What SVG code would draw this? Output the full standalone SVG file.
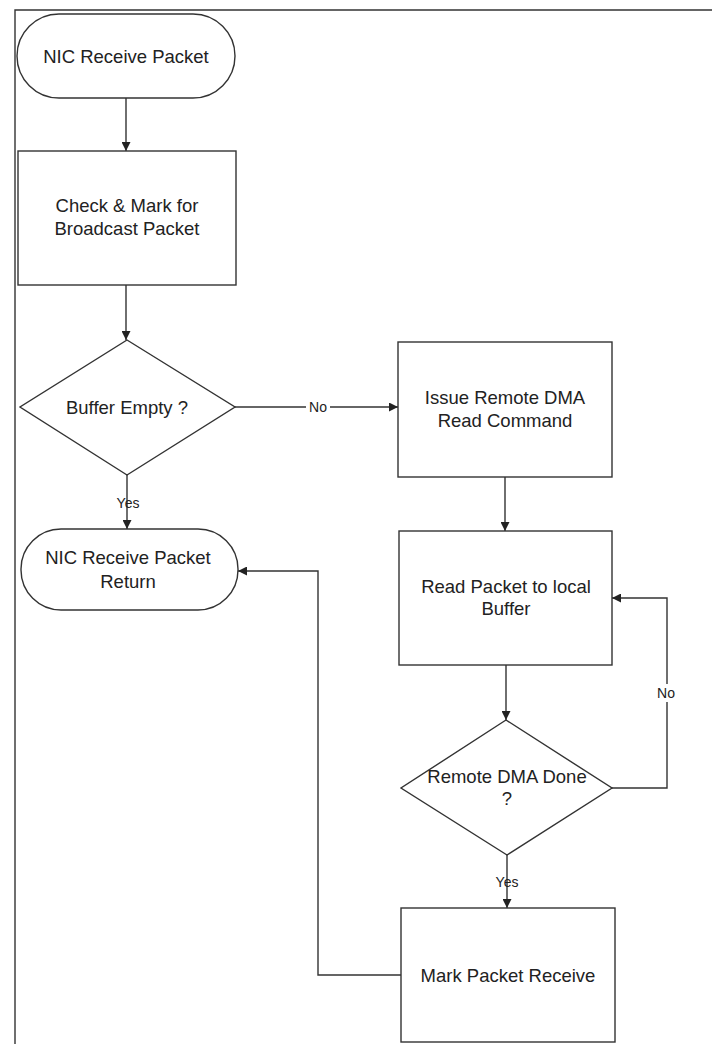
<svg xmlns="http://www.w3.org/2000/svg" width="712" height="1044" viewBox="0 0 712 1044">
<style>
.shape{fill:#fff;stroke:#333;stroke-width:1.4}
.line{fill:none;stroke:#333;stroke-width:1.4}
.t{font-family:"Liberation Sans",Arial,sans-serif;font-size:18.5px;fill:#222;text-anchor:middle}
.lbl{font-family:"Liberation Sans",Arial,sans-serif;font-size:14px;fill:#222;text-anchor:middle}
</style>
<defs>
<marker id="arr" viewBox="0 0 10 10" refX="10" refY="5" markerWidth="9" markerHeight="9" markerUnits="userSpaceOnUse" orient="auto">
<path d="M0,0 L10,5 L0,10 z" fill="#222"/>
</marker>
</defs>
<rect width="712" height="1044" fill="#fff"/>
<g id="frame">
<path class="line" d="M15,1044 L15,10 L712,10" stroke-width="2"/>
</g>
<g id="connectors">
<path class="line" d="M126,98 L126,151" marker-end="url(#arr)"/>
<path class="line" d="M126,285 L126,340" marker-end="url(#arr)"/>
<path class="line" d="M235,407 L398,407" marker-end="url(#arr)"/>
<path class="line" d="M127,475 L127,529" marker-end="url(#arr)"/>
<path class="line" d="M505,477 L505,531" marker-end="url(#arr)"/>
<path class="line" d="M506,665 L506,720" marker-end="url(#arr)"/>
<path class="line" d="M612,788 L667,788 L667,598 L612,598" marker-end="url(#arr)"/>
<path class="line" d="M507,855 L507,908" marker-end="url(#arr)"/>
<path class="line" d="M401,975 L318,975 L318,571 L238,571" marker-end="url(#arr)"/>
<rect x="306" y="399" width="24" height="16" fill="#fff"/>
<text class="lbl" x="318" y="412">No</text>
<text class="lbl" x="128" y="508">Yes</text>
<rect x="655" y="684" width="24" height="18" fill="#fff"/>
<text class="lbl" x="666" y="698">No</text>
<text class="lbl" x="507" y="887">Yes</text>
</g>
<g id="start">
<rect class="shape" x="17" y="14" width="218" height="84" rx="42" ry="42"/>
<text class="t" x="126" y="63">NIC Receive Packet</text>
</g>
<g id="check">
<rect class="shape" x="18" y="151" width="218" height="134"/>
<text class="t" x="127" y="212">Check &amp; Mark for</text>
<text class="t" x="127" y="235">Broadcast Packet</text>
</g>
<g id="buffer-empty">
<polygon class="shape" points="127,340 235,407 127,475 20,407"/>
<text class="t" x="127" y="414">Buffer Empty ?</text>
</g>
<g id="return">
<rect class="shape" x="21" y="529" width="217" height="81" rx="40" ry="40"/>
<text class="t" x="128" y="564">NIC Receive Packet</text>
<text class="t" x="128" y="588">Return</text>
</g>
<g id="issue">
<rect class="shape" x="398" y="342" width="214" height="135"/>
<text class="t" x="505" y="404">Issue Remote DMA</text>
<text class="t" x="505" y="427">Read Command</text>
</g>
<g id="read">
<rect class="shape" x="399" y="531" width="213" height="134"/>
<text class="t" x="506" y="593">Read Packet to local</text>
<text class="t" x="506" y="615">Buffer</text>
</g>
<g id="dma-done">
<polygon class="shape" points="506,720 612,788 507,855 401,788"/>
<text class="t" x="507" y="783">Remote DMA Done</text>
<text class="t" x="507" y="805">?</text>
</g>
<g id="mark">
<rect class="shape" x="401" y="908" width="214" height="134"/>
<text class="t" x="508" y="982">Mark Packet Receive</text>
</g>
</svg>
